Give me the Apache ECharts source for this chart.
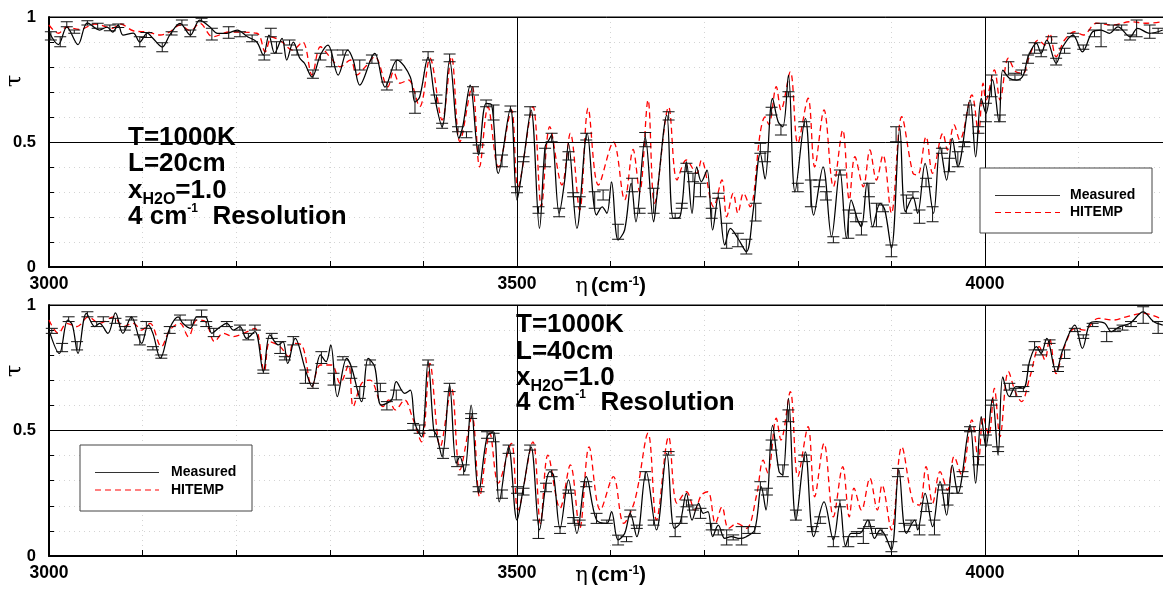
<!DOCTYPE html>
<html><head><meta charset="utf-8">
<script src="https://cdn.jsdelivr.net/npm/echarts@6/dist/echarts.min.js"></script>
<style>html,body{margin:0;padding:0;background:#fff;} #c{width:1163px;height:590px;}</style>
</head><body><div id="c"></div>
<script>
// ---------- data (eta in cm^-1, tau) ----------
const xTickLabels = [3000, 3500, 4000];
const yTickLabels = [0, 0.5, 1];

const topMeasured = [[3000,.94],[3010,.89],[3019,.96],[3031,.89],[3041,.977],[3054,.948],[3062,.96],[3068,.94],[3074,.968],[3079,.928],[3090,.936],[3097,.90],[3105,.936],[3111,.915],[3121,.88],[3129,.928],[3140,.975],[3151,.928],[3161,.988],[3172,.96],[3180,.935],[3190,.935],[3201,.948],[3212,.921],[3222,.90],[3229,.848],[3235,.928],[3241,.855],[3249,.915],[3254,.828],[3261,.90],[3268,.835],[3273,.815],[3281,.76],[3290,.848],[3298,.888],[3309,.768],[3319,.868],[3325,.828],[3332,.728],[3348,.855],[3359,.72],[3372,.828],[3386,.76],[3391,.66],[3396,.68],[3405,.839],[3412,.68],[3420,.561],[3428,.828],[3438,.515],[3442,.561],[3450,.728],[3459,.448],[3467,.655],[3473,.648],[3480,.375],[3493,.635],[3500,.268],[3507,.428],[3515,.628],[3524,.155],[3530,.481],[3534,.508],[3537,.528],[3545,.215],[3551,.348],[3555,.495],[3564,.155],[3575,.535],[3585,.208],[3591,.241],[3596,.215],[3601,.341],[3608,.108],[3615,.148],[3622,.335],[3627,.181],[3637,.52],[3646,.181],[3649,.268],[3660,.608],[3667,.195],[3674,.20],[3681,.421],[3687,.215],[3692,.401],[3697,.341],[3703,.388],[3709,.148],[3715,.281],[3722,.088],[3728,.155],[3736,.115],[3745,.061],[3752,.215],[3760,.455],[3765,.352],[3773,.675],[3779,.581],[3784,.561],[3790,.768],[3797,.301],[3808,.595],[3817,.208],[3827,.401],[3836,.121],[3845,.388],[3852,.115],[3857,.268],[3864,.188],[3868,.161],[3874,.337],[3880,.161],[3888,.255],[3893,.228],[3900,.075],[3909,.555],[3915,.221],[3923,.281],[3928,.215],[3936,.415],[3945,.215],[3952,.481],[3959,.348],[3965,.515],[3971,.401],[3984,.668],[3990,.441],[3996,.675],[4001,.615],[4008,.75],[4015,.581],[4019,.788],[4026,.755],[4034,.748],[4041,.768],[4046,.841],[4055,.895],[4060,.855],[4066,.908],[4076,.815],[4083,.881],[4094,.928],[4104,.861],[4115,.941],[4124,.948],[4133,.935],[4142,.961],[4155,.921],[4163,.955],[4176,.935],[4190,.948]];

const topHitemp = [[3000,.968],[3010,.935],[3019,.96],[3033,.95],[3049,.972],[3068,.955],[3076,.972],[3090,.945],[3105,.94],[3119,.928],[3129,.94],[3140,.968],[3151,.945],[3161,.975],[3175,.921],[3193,.94],[3222,.935],[3231,.861],[3238,.92],[3249,.90],[3260,.868],[3271,.90],[3281,.768],[3290,.881],[3300,.841],[3311,.801],[3322,.828],[3329,.768],[3338,.801],[3348,.841],[3362,.721],[3368,.781],[3375,.735],[3384,.748],[3396,.641],[3407,.835],[3420,.588],[3430,.841],[3439,.501],[3452,.721],[3460,.401],[3469,.641],[3480,.40],[3494,.628],[3501,.321],[3517,.641],[3526,.241],[3535,.561],[3548,.328],[3557,.535],[3567,.228],[3576,.635],[3587,.328],[3603,.50],[3615,.268],[3624,.47],[3631,.30],[3640,.668],[3647,.255],[3662,.64],[3671,.348],[3681,.428],[3692,.375],[3697,.428],[3710,.241],[3719,.348],[3724,.201],[3731,.295],[3736,.215],[3742,.295],[3749,.241],[3760,.54],[3765,.60],[3769,.57],[3777,.721],[3782,.628],[3792,.781],[3800,.495],[3811,.675],[3818,.401],[3828,.628],[3838,.321],[3848,.548],[3855,.268],[3861,.441],[3870,.321],[3877,.468],[3884,.348],[3891,.448],[3900,.215],[3911,.601],[3923,.375],[3928,.368],[3937,.521],[3944,.375],[3955,.535],[3960,.468],[3967,.568],[3973,.508],[3986,.688],[3993,.535],[3998,.735],[4001,.668],[4010,.788],[4016,.668],[4025,.835],[4033,.781],[4041,.775],[4046,.828],[4057,.908],[4064,.888],[4069,.935],[4076,.841],[4085,.908],[4096,.941],[4105,.928],[4119,.975],[4137,.968],[4155,.981],[4173,.975],[4190,.981]];

// error bars: [eta, low, high]
const topErr = [[3002,.908,.941],[3012,.881,.921],[3019,.961,.981],[3027,.935,.948],[3041,.968,.985],[3052,.955,.975],[3065,.945,.968],[3074,.958,.972],[3097,.881,.921],[3104,.918,.938],[3121,.861,.897],[3131,.928,.941],[3142,.968,.988],[3151,.921,.948],[3163,.981,.995],[3174,.908,.955],[3192,.915,.961],[3204,.921,.941],[3217,.901,.928],[3230,.828,.848],[3237,.921,.955],[3243,.855,.901],[3257,.888,.908],[3265,.848,.868],[3282,.755,.788],[3290,.828,.855],[3302,.801,.868],[3314,.848,.868],[3332,.788,.828],[3345,.815,.848],[3361,.708,.74],[3371,.788,.828],[3391,.615,.701],[3405,.828,.861],[3414,.655,.688],[3420,.555,.575],[3428,.821,.852],[3437,.541,.561],[3446,.517,.541],[3453,.688,.721],[3459,.455,.488],[3467,.641,.668],[3475,.588,.648],[3484,.401,.448],[3493,.621,.644],[3500,.297,.321],[3507,.421,.441],[3514,.608,.641],[3523,.215,.241],[3530,.401,.475],[3537,.501,.535],[3545,.201,.235],[3555,.428,.461],[3560,.281,.297],[3567,.241,.281],[3574,.508,.535],[3583,.235,.301],[3592,.268,.308],[3608,.111,.171],[3623,.301,.355],[3631,.215,.235],[3637,.481,.538],[3646,.215,.315],[3662,.588,.621],[3669,.195,.215],[3676,.235,.255],[3681,.381,.415],[3688,.341,.375],[3696,.281,.335],[3708,.195,.235],[3715,.275,.295],[3724,.075,.175],[3736,.081,.135],[3745,.052,.111],[3755,.184,.255],[3760,.455,.495],[3765,.421,.461],[3772,.608,.639],[3782,.528,.568],[3790,.681,.701],[3800,.301,.335],[3807,.561,.581],[3814,.241,.348],[3823,.321,.348],[3830,.268,.301],[3838,.097,.121],[3845,.368,.388],[3854,.115,.228],[3862,.181,.215],[3868,.128,.181],[3876,.281,.335],[3884,.161,.255],[3891,.221,.248],[3900,.041,.088],[3905,.501,.561],[3916,.215,.288],[3923,.275,.301],[3930,.175,.228],[3937,.321,.355],[3944,.181,.241],[3954,.455,.475],[3962,.381,.435],[3971,.401,.461],[3978,.481,.501],[3983,.608,.648],[3993,.535,.561],[4001,.581,.655],[4007,.681,.768],[4016,.581,.608],[4025,.768,.821],[4032,.748,.775],[4039,.768,.788],[4046,.815,.848],[4053,.855,.897],[4060,.841,.868],[4071,.895,.921],[4076,.808,.835],[4085,.855,.875],[4094,.921,.935],[4105,.871,.888],[4117,.921,.948],[4124,.881,.975],[4137,.948,.968],[4146,.948,.968],[4155,.908,.928],[4162,.921,.988],[4176,.915,.968],[4185,.935,.955]];

const botMeasured = [[3000,.90],[3011,.807],[3020,.94],[3025,.92],[3031,.807],[3040,.967],[3049,.914],[3054,.927],[3063,.887],[3071,.969],[3079,.887],[3088,.953],[3099,.847],[3106,.92],[3111,.887],[3119,.788],[3129,.907],[3138,.953],[3143,.927],[3151,.907],[3158,.953],[3167,.953],[3174,.887],[3181,.907],[3190,.927],[3197,.90],[3204,.914],[3211,.867],[3220,.894],[3229,.735],[3236,.881],[3245,.841],[3250,.854],[3255,.767],[3263,.867],[3274,.741],[3281,.675],[3290,.801],[3296,.774],[3301,.841],[3308,.635],[3318,.787],[3323,.754],[3334,.615],[3341,.787],[3348,.754],[3355,.601],[3366,.622],[3371,.695],[3380,.648],[3386,.661],[3391,.528],[3398,.475],[3405,.774],[3411,.502],[3414,.482],[3420,.396],[3428,.681],[3435,.369],[3439,.396],[3444,.336],[3451,.601],[3459,.25],[3468,.475],[3475,.495],[3481,.216],[3491,.435],[3500,.143],[3507,.276],[3515,.435],[3524,.104],[3531,.29],[3535,.336],[3539,.323],[3546,.11],[3555,.303],[3564,.09],[3574,.316],[3585,.143],[3596,.13],[3601,.177],[3608,.064],[3615,.09],[3621,.17],[3628,.077],[3638,.336],[3649,.104],[3660,.409],[3668,.11],[3674,.13],[3681,.25],[3687,.143],[3694,.21],[3699,.17],[3704,.177],[3709,.077],[3715,.123],[3722,.07],[3729,.077],[3738,.07],[3745,.077],[3754,.104],[3761,.276],[3766,.183],[3773,.52],[3780,.336],[3784,.323],[3790,.628],[3798,.143],[3808,.415],[3817,.077],[3828,.216],[3838,.064],[3845,.21],[3851,.04],[3857,.09],[3866,.09],[3875,.143],[3882,.07],[3888,.104],[3893,.084],[3900,.024],[3908,.343],[3916,.09],[3925,.143],[3928,.104],[3936,.25],[3944,.117],[3952,.296],[3959,.163],[3965,.362],[3971,.25],[3984,.522],[3990,.29],[3996,.555],[4001,.435],[4008,.628],[4014,.402],[4019,.714],[4026,.635],[4033,.675],[4041,.668],[4048,.781],[4055,.834],[4060,.807],[4066,.867],[4076,.735],[4083,.821],[4096,.92],[4104,.827],[4112,.927],[4119,.934],[4128,.927],[4135,.894],[4144,.914],[4155,.927],[4169,.973],[4180,.934],[4190,.92]];

const botHitemp = [[3000,.94],[3010,.887],[3019,.927],[3030,.914],[3042,.953],[3054,.927],[3069,.953],[3079,.914],[3090,.927],[3099,.90],[3108,.927],[3120,.834],[3129,.90],[3140,.927],[3149,.874],[3158,.94],[3167,.934],[3177,.854],[3186,.887],[3197,.874],[3208,.887],[3220,.907],[3230,.735],[3236,.854],[3247,.834],[3256,.794],[3261,.847],[3270,.841],[3281,.675],[3290,.761],[3302,.761],[3311,.688],[3320,.761],[3325,.595],[3334,.688],[3343,.701],[3357,.595],[3363,.622],[3370,.582],[3380,.622],[3388,.555],[3398,.455],[3407,.767],[3418,.435],[3430,.668],[3439,.343],[3452,.555],[3460,.236],[3471,.489],[3480,.29],[3494,.449],[3501,.183],[3517,.455],[3525,.13],[3533,.402],[3546,.19],[3557,.363],[3567,.11],[3577,.435],[3589,.183],[3603,.316],[3614,.13],[3626,.223],[3640,.489],[3649,.143],[3662,.475],[3671,.21],[3681,.256],[3690,.183],[3697,.243],[3704,.256],[3712,.13],[3719,.196],[3726,.11],[3735,.13],[3745,.11],[3756,.243],[3763,.382],[3768,.33],[3777,.549],[3782,.462],[3792,.655],[3800,.316],[3811,.515],[3818,.236],[3828,.449],[3838,.156],[3848,.356],[3855,.156],[3860,.27],[3868,.183],[3877,.31],[3885,.183],[3890,.283],[3900,.104],[3911,.435],[3923,.216],[3930,.203],[3937,.356],[3944,.21],[3952,.336],[3960,.263],[3967,.396],[3975,.323],[3986,.542],[3993,.382],[3998,.555],[4004,.482],[4010,.668],[4016,.475],[4025,.735],[4033,.648],[4039,.615],[4048,.714],[4058,.834],[4064,.781],[4069,.867],[4076,.727],[4085,.834],[4096,.907],[4106,.90],[4121,.947],[4137,.94],[4151,.953],[4169,.967],[4187,.947]];

const botErr = [[3003,.887,.907],[3014,.814,.847],[3021,.934,.953],[3030,.821,.854],[3041,.953,.973],[3051,.914,.934],[3058,.934,.953],[3071,.927,.947],[3081,.90,.914],[3088,.94,.953],[3097,.841,.881],[3104,.907,.934],[3111,.821,.834],[3120,.788,.801],[3129,.887,.914],[3140,.94,.96],[3152,.92,.94],[3163,.953,.98],[3168,.914,.934],[3176,.874,.907],[3190,.914,.934],[3204,.90,.92],[3213,.861,.887],[3220,.90,.92],[3229,.728,.741],[3238,.867,.887],[3247,.807,.854],[3252,.781,.794],[3261,.841,.874],[3274,.688,.741],[3282,.668,.688],[3291,.767,.814],[3304,.681,.728],[3314,.781,.794],[3323,.708,.754],[3332,.628,.675],[3343,.761,.781],[3354,.655,.688],[3361,.582,.615],[3371,.622,.661],[3389,.502,.528],[3396,.489,.522],[3405,.761,.781],[3412,.475,.502],[3421,.389,.429],[3428,.655,.688],[3436,.356,.396],[3443,.323,.363],[3451,.548,.567],[3459,.256,.276],[3468,.469,.495],[3475,.455,.489],[3484,.23,.263],[3491,.409,.442],[3500,.25,.276],[3507,.243,.27],[3514,.422,.442],[3523,.07,.143],[3531,.256,.29],[3537,.316,.343],[3546,.09,.117],[3555,.25,.263],[3560,.13,.153],[3567,.123,.143],[3574,.276,.296],[3585,.13,.17],[3596,.13,.143],[3608,.044,.083],[3617,.057,.077],[3621,.156,.183],[3628,.11,.123],[3637,.303,.336],[3646,.123,.143],[3662,.402,.416],[3669,.077,.13],[3676,.13,.156],[3681,.196,.223],[3688,.183,.203],[3696,.15,.19],[3708,.104,.13],[3715,.084,.104],[3724,.044,.104],[3731,.064,.084],[3740,.044,.117],[3747,.09,.117],[3754,.09,.117],[3760,.263,.296],[3767,.243,.27],[3772,.422,.462],[3784,.316,.363],[3790,.535,.582],[3798,.143,.183],[3807,.376,.402],[3816,.097,.117],[3824,.13,.156],[3838,.037,.077],[3845,.196,.223],[3854,.037,.077],[3863,.077,.097],[3870,.05,.11],[3876,.117,.143],[3883,.09,.11],[3890,.084,.11],[3900,.017,.057],[3907,.316,.349],[3914,.097,.13],[3921,.123,.143],[3930,.084,.123],[3937,.177,.21],[3946,.084,.143],[3955,.263,.283],[3960,.203,.25],[3970,.25,.276],[3976,.316,.336],[3984,.495,.515],[3993,.363,.396],[4001,.442,.482],[4007,.601,.621],[4014,.416,.435],[4026,.661,.688],[4033,.635,.668],[4041,.655,.675],[4046,.735,.761],[4053,.821,.854],[4060,.801,.821],[4069,.847,.861],[4078,.735,.754],[4085,.787,.821],[4096,.894,.907],[4105,.867,.881],[4115,.914,.927],[4130,.854,.894],[4139,.894,.907],[4147,.90,.92],[4156,.914,.934],[4169,.927,.993],[4185,.887,.934]];

const topNote = [[['T=1000K','n']],[['L=20cm','n']],[['x','n'],['H2O','sub'],['=1.0','n']],[['4 cm','n'],['-1','sup'],['  Resolution','n']]];
const botNote = [[['T=1000K','n']],[['L=40cm','n']],[['x','n'],['H2O','sub'],['=1.0','n']],[['4 cm','n'],['-1','sup'],['  Resolution','n']]];
const legendNames = ['Measured', 'HITEMP'];

// ---------- chart ----------
const FF = '"Liberation Sans", Arial, Helvetica, sans-serif';
const chart = echarts.init(document.getElementById('c'), null, {renderer: 'canvas'});
const mctx = document.createElement('canvas').getContext('2d');
function tw(t, size) { mctx.font = 'bold ' + size + 'px ' + FF; return mctx.measureText(t).width; }

const GRIDS = [{top: 17, height: 250}, {top: 305, height: 251}];
const GL = 49, GW = 1123.2;
const DOT = {color: '#d4d4d4', type: [1, 4], width: 1};

function makeX(gi) {
  return {
    type: 'value', gridIndex: gi, min: 3000, max: 4200, interval: 100,
    axisLine: {show: true, onZero: false, lineStyle: {color: '#000', width: 2}},
    axisTick: {show: true, inside: true, length: 6, lineStyle: {color: '#000', width: 1}},
    axisLabel: {formatter: v => xTickLabels.includes(Math.round(v)) ? String(Math.round(v)) : '',
      color: '#000', fontSize: 17.5, fontWeight: 'bold', fontFamily: FF, margin: 8},
    splitLine: {show: true, lineStyle: DOT},
    name: '{g|\u03b7} {b|(cm}{s|-1}{b|)}', nameLocation: 'middle', nameGap: 9, nameMoveOverlap: false,
    nameTextStyle: {color: '#000', verticalAlign: 'top', rich: {
      g: {fontSize: 21, fontFamily: '"DejaVu Serif", serif', color: '#000'},
      b: {fontSize: 21, fontWeight: 'bold', fontFamily: FF, color: '#000'},
      s: {fontSize: 12, fontWeight: 'bold', fontFamily: FF, color: '#000', verticalAlign: 'top'}
    }}
  };
}
function makeY(gi) {
  return {
    type: 'value', gridIndex: gi, min: 0, max: 1, interval: 0.1,
    axisLine: {show: true, onZero: false, lineStyle: {color: '#000', width: 2}},
    axisTick: {show: true, inside: true, length: 5, lineStyle: {color: '#000', width: 1}},
    axisLabel: {formatter: v => {
      const t = yTickLabels.find(t => Math.abs(t - v) < 1e-6);
      return t === undefined ? '' : String(t);
    }, color: '#000', fontSize: 16.5, fontWeight: 'bold', fontFamily: FF, margin: 13},
    splitLine: {show: true, lineStyle: DOT}
  };
}

function errRender(params, api) {
  const x = api.value(0), lo = api.value(1), hi = api.value(2);
  const p1 = api.coord([x, lo]), p2 = api.coord([x, hi]);
  const hw = 6;
  const style = {stroke: '#111', lineWidth: 1};
  return {type: 'group', children: [
    {type: 'line', shape: {x1: p1[0], y1: p1[1], x2: p2[0], y2: p2[1]}, style},
    {type: 'line', shape: {x1: p1[0] - hw, y1: p1[1], x2: p1[0] + hw, y2: p1[1]}, style},
    {type: 'line', shape: {x1: p2[0] - hw, y1: p2[1], x2: p2[0] + hw, y2: p2[1]}, style}
  ]};
}

function panelSeries(gi, meas, hit, err) {
  return [
    {type: 'line', name: legendNames[1], xAxisIndex: gi, yAxisIndex: gi, data: hit, showSymbol: false,
     smooth: 0.35, lineStyle: {color: '#ff0000', width: 1.3, type: [6, 4]}, z: 3,
     markLine: {silent: true, symbol: 'none', label: {show: false}, animation: false,
       lineStyle: {color: '#000', width: 1, type: 'solid'},
       data: [{yAxis: 0.5}, {yAxis: 1}, {xAxis: 3500}, {xAxis: 4000}]}},
    {type: 'line', name: legendNames[0], xAxisIndex: gi, yAxisIndex: gi, data: meas, showSymbol: false,
     smooth: 0.35, lineStyle: {color: '#000', width: 1.25}, z: 4},
    {type: 'custom', xAxisIndex: gi, yAxisIndex: gi, data: err, renderItem: errRender,
     encode: {x: 0, y: [1, 2]}, z: 5}
  ];
}

function noteGraphics(x0, yCenters, lines) {
  const out = [];
  const cfg = {n: {size: 26, dy: 0}, sub: {size: 16, dy: 9}, sup: {size: 12, dy: -8}};
  lines.forEach((line, i) => {
    let x = x0;
    line.forEach(([txt, kind]) => {
      const c = cfg[kind];
      out.push({type: 'text', x: x, y: yCenters[i] + c.dy, z: 100,
        style: {text: txt, fontSize: c.size, fontWeight: 'bold', fontFamily: FF, fill: '#000',
                align: 'left', verticalAlign: 'middle'}});
      x += tw(txt, c.size);
    });
  });
  return out;
}

function legendGraphics(bx, by, bw, bh, lx1, lx2, y1, y2, tx) {
  return [
    {type: 'rect', z: 100, shape: {x: bx, y: by, width: bw, height: bh},
     style: {fill: '#fff', stroke: '#444', lineWidth: 1}},
    {type: 'line', z: 101, shape: {x1: lx1, y1: y1, x2: lx2, y2: y1}, style: {stroke: '#333', lineWidth: 1.2}},
    {type: 'line', z: 101, shape: {x1: lx1, y1: y2, x2: lx2, y2: y2}, style: {stroke: '#ff0000', lineWidth: 1.2, lineDash: [6, 4]}},
    {type: 'text', z: 101, x: tx, y: y1, style: {text: legendNames[0], fontSize: 14, fontWeight: 'bold', fontFamily: FF, fill: '#000', verticalAlign: 'middle'}},
    {type: 'text', z: 101, x: tx, y: y2, style: {text: legendNames[1], fontSize: 14, fontWeight: 'bold', fontFamily: FF, fill: '#000', verticalAlign: 'middle'}}
  ];
}

const tauLabel = (y) => ({type: 'text', z: 100, x: 15, y: y, rotation: Math.PI / 2,
  style: {text: '\u03c4', fontSize: 23, fontFamily: '"DejaVu Serif", serif', fill: '#000', align: 'center', verticalAlign: 'middle'}});

const option = {
  animation: false,
  backgroundColor: '#fff',
  grid: GRIDS.map(g => ({left: GL, top: g.top, width: GW, height: g.height, show: true,
    borderColor: '#000', borderWidth: 1, backgroundColor: 'transparent', containLabel: false, outerBoundsMode: 'none'})),
  xAxis: [makeX(0), makeX(1)],
  yAxis: [makeY(0), makeY(1)],
  series: [...panelSeries(0, topMeasured, topHitemp, topErr), ...panelSeries(1, botMeasured, botHitemp, botErr)],
  graphic: [
    ...noteGraphics(128, [138, 164, 191, 217], topNote),
    ...noteGraphics(516, [325, 351.5, 378, 403], botNote),
    ...legendGraphics(980, 168, 172, 65, 995, 1060, 195.5, 212.5, 1070),
    ...legendGraphics(80, 445, 172, 66, 95, 159, 472.5, 490, 171),
    tauLabel(81), tauLabel(371)
  ]
};
chart.setOption(option);
</script>
</body></html>
